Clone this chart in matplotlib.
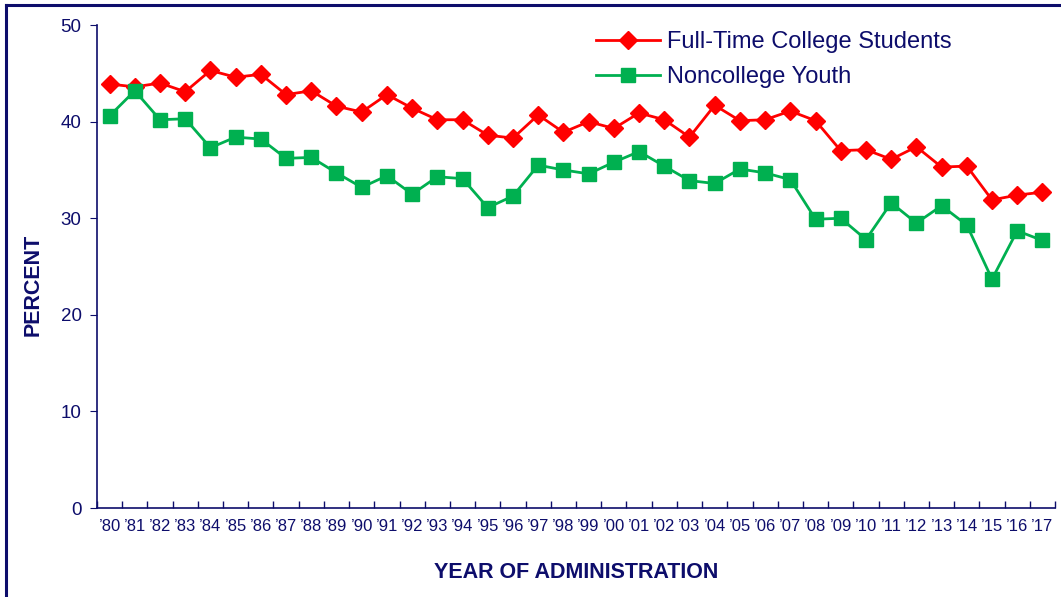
import matplotlib.pyplot as plt
import matplotlib.lines as mlines
import numpy as np

plt.rcParams['font.family'] = ['Liberation Sans', 'DejaVu Sans']

# Survey years (two-digit labels)
years = ['80', '81', '82', '83', '84', '85', '86', '87', '88', '89',
         '90', '91', '92', '93', '94', '95', '96', '97', '98', '99',
         '00', '01', '02', '03', '04', '05', '06', '07', '08', '09',
         '10', '11', '12', '13', '14', '15', '16', '17']

college = [43.9, 43.6, 44.0, 43.1, 45.3, 44.6, 44.9, 42.8, 43.2, 41.6,
           41.0, 42.8, 41.4, 40.2, 40.2, 38.6, 38.3, 40.7, 38.9, 40.0,
           39.3, 40.9, 40.2, 38.4, 41.7, 40.1, 40.2, 41.1, 40.1, 37.0,
           37.1, 36.1, 37.4, 35.3, 35.4, 31.9, 32.4, 32.7]

noncollege = [40.6, 43.2, 40.2, 40.3, 37.3, 38.4, 38.2, 36.2, 36.3, 34.7,
              33.2, 34.4, 32.5, 34.3, 34.1, 31.1, 32.3, 35.5, 35.0, 34.6,
              35.8, 36.9, 35.4, 33.9, 33.6, 35.1, 34.7, 34.0, 29.9, 30.0,
              27.8, 31.6, 29.5, 31.3, 29.3, 23.7, 28.7, 27.7]

navy = '#0d0d6b'
red = '#ff0000'
green = '#00b050'

fig = plt.figure(figsize=(10.61, 5.97), dpi=100)
ax = fig.add_axes([0.0914, 0.149, 0.903, 0.809])

x = np.arange(len(years))
ax.plot(x, college, color=red, lw=2, marker='D', markersize=9,
        label='Full-Time College Students')
ax.plot(x, noncollege, color=green, lw=2, marker='s', markersize=10,
        label='Noncollege Youth')

ax.set_xlim(-0.5, len(years) - 0.5)
ax.set_ylim(0, 50)
ax.set_yticks([0, 10, 20, 30, 40, 50])

# category labels centred, tick marks on boundaries
ax.set_xticks(x)
ax.set_xticklabels(["\u2019" + y for y in years], fontsize=12, color=navy)
ax.tick_params(axis='x', which='major', length=0, pad=8)
ax.set_xticks(np.arange(-0.5, len(years)), minor=True)
ax.tick_params(axis='x', which='minor', direction='in', length=5,
               color=navy, width=1)
ax.tick_params(axis='y', direction='out', length=5, color=navy,
               labelsize=13.5, labelcolor=navy, pad=6)

for side in ['top', 'right']:
    ax.spines[side].set_visible(False)
for side in ['left', 'bottom']:
    ax.spines[side].set_color(navy)
    ax.spines[side].set_linewidth(1.2)

ax.set_xlabel('YEAR OF ADMINISTRATION', fontsize=15.5, fontweight='bold',
              color=navy, labelpad=20)
ax.set_ylabel('PERCENT', fontsize=15.5, fontweight='bold', color=navy)
ax.yaxis.set_label_coords(-0.056, 0.462)

leg = ax.legend(loc='upper left', bbox_to_anchor=(0.499, 1.031), frameon=False,
                fontsize=17, handlelength=2.7, handletextpad=0.3,
                labelspacing=0.55)
for t in leg.get_texts():
    t.set_color(navy)

# frame around the figure (top and left edges visible)
fig.add_artist(mlines.Line2D([0.0057, 1.0], [0.9916, 0.9916], color=navy,
                             lw=2.2, transform=fig.transFigure))
fig.add_artist(mlines.Line2D([0.0057, 0.0057], [0.0, 0.9916], color=navy,
                             lw=2.2, transform=fig.transFigure))

fig.savefig('out.png', dpi=100)
